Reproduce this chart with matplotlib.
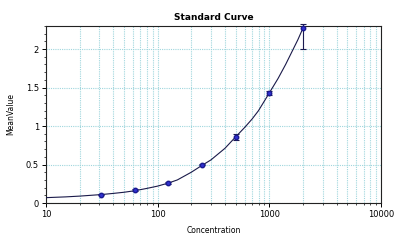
import matplotlib
matplotlib.use("Agg")
import matplotlib.pyplot as plt
from matplotlib.ticker import LogLocator, NullFormatter, MultipleLocator, FixedLocator, FixedFormatter

# data
conc = [31.25, 62.5, 125, 250, 500, 1000, 2000]
mean_val = [0.11, 0.17, 0.26, 0.50, 0.86, 1.43, 2.27]
err_lo = [0.01, 0.01, 0.01, 0.01, 0.04, 0.03, 0.27]
err_hi = [0.01, 0.01, 0.01, 0.01, 0.04, 0.03, 0.05]
curve_x = [10, 15, 20, 31.25, 40, 50, 62.5, 80, 100, 125, 150, 200, 250, 300, 400, 500,
           600, 700, 800, 1000, 1200, 1400, 1600, 1800, 2000]
curve_y = [0.07, 0.08, 0.09, 0.11, 0.125, 0.14, 0.16, 0.19, 0.22, 0.26, 0.30, 0.40, 0.49, 0.56,
           0.71, 0.86, 0.98, 1.09, 1.20, 1.43, 1.62, 1.80, 1.97, 2.12, 2.27]
x_ticks = [10, 100, 1000, 10000]
x_tick_labels = ["10", "100", "1000", "10000"]
y_ticks = [0, 0.5, 1, 1.5, 2]
y_tick_labels = ["0", "0.5", "1", "1.5", "2"]

fig = plt.figure(figsize=(4, 2.4), dpi=100)
ax = fig.add_axes([0.115, 0.154, 0.8375, 0.738])
ax.set_xscale("log")
ax.set_xlim(10, 10000)
ax.set_ylim(0, 2.3)

gc = "#9fd6dd"
ax.xaxis.set_major_locator(FixedLocator(x_ticks))
ax.xaxis.set_major_formatter(FixedFormatter(x_tick_labels))
ax.xaxis.set_minor_locator(LogLocator(base=10, subs=range(2, 10)))
ax.xaxis.set_minor_formatter(NullFormatter())
ax.yaxis.set_major_locator(FixedLocator(y_ticks))
ax.yaxis.set_major_formatter(FixedFormatter(y_tick_labels))
ax.yaxis.set_minor_locator(MultipleLocator(0.1))
ax.grid(True, which="major", axis="both", color=gc, linestyle=(0, (1, 1)), linewidth=0.8)
ax.grid(True, which="minor", axis="x", color=gc, linestyle=(0, (1, 1)), linewidth=0.8)

ax.plot(curve_x, curve_y, color="#1a1a4a", linewidth=0.8, zorder=3)
ax.errorbar(conc, mean_val, yerr=[err_lo, err_hi], fmt="o", color="#1f1fa8",
            markersize=3.2, markerfacecolor="#3030d0", markeredgecolor="#1a1a90",
            ecolor="#1a1a50", elinewidth=0.8, capsize=2.5, capthick=0.8, zorder=4, clip_on=False)

for s in ax.spines.values():
    s.set_linewidth(0.8)
    s.set_color("#222222")
ax.tick_params(which="major", length=3, width=0.7, labelsize=6, pad=2)
ax.tick_params(which="minor", length=1.5, width=0.5)

ax.set_title("Standard Curve", fontsize=6.5, fontweight="bold", pad=4)
ax.set_xlabel("Concentration", fontsize=5.5, labelpad=5)
ax.set_ylabel("MeanValue", fontsize=5.5, labelpad=8)

fig.savefig("out.png", dpi=100)
